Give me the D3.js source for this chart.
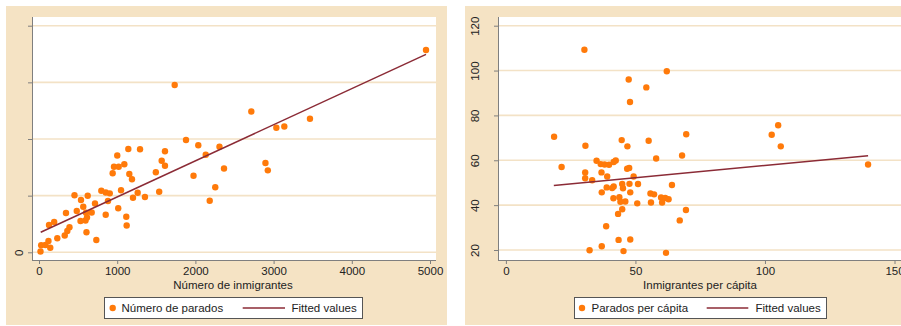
<!DOCTYPE html>
<html>
<head>
<meta charset="utf-8">
<script src="https://cdn.jsdelivr.net/npm/d3@7"></script>
<style>
  html, body { margin: 0; padding: 0; background: #ffffff; }
  svg { display: block; font-family: "Liberation Sans", Arial, sans-serif; }
</style>
</head>
<body>
<svg id="chart" width="901" height="326"></svg>
<script>
// Left panel: number of immigrants vs number of unemployed
const immigrantes = [4949,1735,2715,3035,3137,3465,1001,1142,1292,1611,1880,2037,2308,1569,2132,1611,1494,959,1019,1091,942,1155,1189,1976,2366,2896,2926,2254,2183,1537,1355,1262,1202,1049,1116,1121,1013,853,882,797,854,905,716,566,623,537,454,483,345,601,674,531,595,614,607,733,194,128,390,362,329,234,28,83,121,144,19];
const parados = [3571,2953,2485,2199,2221,2358,1709,1823,1820,1783,1982,1889,1864,1615,1723,1529,1412,1511,1511,1553,1395,1382,1289,1352,1479,1576,1447,1147,911,1070,976,1052,964,1094,627,473,777,664,906,1086,1056,1041,861,805,999,923,1006,729,694,699,703,553,561,614,355,217,535,482,441,376,297,247,124,129,199,81,14];
// Fitted values line (start and end of the data range)
const fitLeftX = [22, 4949];
const fitLeftY = [353, 3495];
const leftXTicks = [0, 1000, 2000, 3000, 4000, 5000];
const leftYTicks = [0, 1000, 2000, 3000, 4000];
const leftYTickLabels = ["0", "", "", "", ""];

// Right panel: immigrants per capita vs unemployed per capita
const inmigPC = [30.3,62.1,47.4,54.2,47.9,18.6,30.7,44.7,46.9,55.1,69.6,102.6,105.1,106.1,68.0,58.0,35.0,42.4,21.5,30.6,30.6,33.3,36.6,38.1,39.8,41.6,36.9,39.1,46.8,47.6,49.3,51.0,47.7,44.9,45.2,41.6,38.9,41.0,37.0,48.0,41.5,43.8,44.2,46.1,50.7,43.3,44.9,38.7,43.5,48.0,37.0,32.3,45.4,61.8,55.8,57.2,56.0,59.9,61.5,62.8,60.3,64.1,67.1,69.5,139.8];
const paradosPC = [109.3,99.7,96.0,92.5,86.0,70.5,66.5,69.0,66.2,68.7,71.6,71.4,75.6,66.2,62.1,60.8,59.8,59.9,57.0,54.6,52.0,51.1,58.3,58.1,58.0,59.2,54.6,52.8,56.2,56.6,52.8,49.4,49.5,49.4,47.5,48.3,47.9,47.6,45.7,45.7,43.1,43.5,41.5,41.6,40.8,36.1,38.2,30.6,24.5,24.7,21.7,19.9,19.5,18.7,45.2,44.8,41.2,43.4,43.2,42.6,41.2,49.0,33.2,37.8,58.1];
const fitRightX = [18.5, 139.8];
const fitRightY = [48.8, 62.0];
const rightXTicks = [0, 50, 100, 150];
const rightYTicks = [20, 40, 60, 80, 100, 120];

const C = {
  panel: "#f5e3c4",
  grid: "#f3e2c6",
  axis: "#7f7f7f",
  marker: "#ff7a0a",
  fit: "#8b2b36",
  text: "#222222"
};

const svg = d3.select("#chart");

function drawPanel(cfg) {
  const g = svg.append("g");
  // outer panel background
  g.append("rect")
    .attr("x", cfg.panel[0]).attr("y", cfg.panel[1])
    .attr("width", cfg.panel[2]).attr("height", cfg.panel[3])
    .attr("fill", C.panel);
  // plot region
  g.append("rect")
    .attr("x", cfg.plot[0]).attr("y", cfg.plot[1])
    .attr("width", cfg.plot[2] - cfg.plot[0]).attr("height", cfg.plot[3] - cfg.plot[1])
    .attr("fill", "#ffffff");

  const x = d3.scaleLinear().domain(cfg.xDomain).range(cfg.xRange);
  const y = d3.scaleLinear().domain(cfg.yDomain).range(cfg.yRange);

  // horizontal gridlines
  g.append("g").selectAll("line").data(cfg.yTicks).join("line")
    .attr("x1", cfg.plot[0] + 1).attr("x2", cfg.plot[2])
    .attr("y1", d => y(d)).attr("y2", d => y(d))
    .attr("stroke", C.grid).attr("stroke-width", 1.6);

  // y axis
  const yAxis = d3.axisLeft(y).tickValues(cfg.yTicks).tickSize(4).tickSizeOuter(0)
    .tickFormat((d, i) => cfg.yLabels ? cfg.yLabels[i] : d);
  const ya = g.append("g").attr("transform", `translate(${cfg.plot[0]},0)`).call(yAxis);
  ya.select(".domain").attr("d", `M0.5,${cfg.plot[1]}V${cfg.plot[3]}`).attr("stroke", C.axis);
  ya.selectAll(".tick line").attr("stroke", C.axis);
  ya.selectAll(".tick text")
    .attr("fill", C.text).attr("font-size", 11.5)
    .attr("x", 0).attr("dy", 0)
    .attr("text-anchor", "middle")
    .attr("transform", `translate(${cfg.yLabelX - cfg.plot[0]},0) rotate(-90)`)
    .attr("dominant-baseline", "central")
    .attr("font-family", "Liberation Sans, Arial, sans-serif");

  // x axis
  const xAxis = d3.axisBottom(x).tickValues(cfg.xTicks).tickSize(4).tickSizeOuter(0)
    .tickFormat(d3.format("d"));
  const xa = g.append("g").attr("transform", `translate(0,${cfg.plot[3]})`).call(xAxis);
  xa.select(".domain").attr("d", `M${cfg.plot[0]},0.5H${cfg.plot[2]}`).attr("stroke", C.axis);
  xa.selectAll(".tick line").attr("stroke", C.axis);
  xa.selectAll(".tick text")
    .attr("fill", C.text).attr("font-size", 11.5).attr("y", 7).attr("dy", "0.71em")
    .attr("font-family", "Liberation Sans, Arial, sans-serif");

  // axis title
  g.append("text")
    .attr("x", cfg.titleX).attr("y", 288.5)
    .attr("text-anchor", "middle").attr("font-size", 11.5).attr("fill", C.text)
    .text(cfg.xTitle);

  // scatter points
  g.append("g").selectAll("circle").data(cfg.xs.map((v, i) => [v, cfg.ys[i]])).join("circle")
    .attr("cx", d => x(d[0])).attr("cy", d => y(d[1])).attr("r", 3.2)
    .attr("fill", C.marker);

  // fitted line
  g.append("line")
    .attr("x1", x(cfg.fitX[0])).attr("y1", y(cfg.fitY[0]))
    .attr("x2", x(cfg.fitX[1])).attr("y2", y(cfg.fitY[1]))
    .attr("stroke", C.fit).attr("stroke-width", 1.5);

  // legend
  const L = cfg.legend;
  const lg = g.append("g");
  lg.append("rect")
    .attr("x", L.box[0] + 0.5).attr("y", L.box[1] + 0.5)
    .attr("width", L.box[2] - L.box[0]).attr("height", L.box[3] - L.box[1])
    .attr("fill", "#ffffff").attr("stroke", "#555555").attr("stroke-width", 1);
  const ly = (L.box[1] + L.box[3]) / 2 + 0.5;
  lg.append("circle").attr("cx", L.marker).attr("cy", ly).attr("r", 3.2).attr("fill", C.marker);
  lg.append("text").attr("x", L.text1).attr("y", ly).attr("dy", "0.35em")
    .attr("font-size", 11.5).attr("fill", C.text).text(cfg.legend1);
  lg.append("line").attr("x1", L.line[0]).attr("x2", L.line[1])
    .attr("y1", ly).attr("y2", ly).attr("stroke", C.fit).attr("stroke-width", 1.5);
  lg.append("text").attr("x", L.text2).attr("y", ly).attr("dy", "0.35em")
    .attr("font-size", 11.5).attr("fill", C.text).text("Fitted values");
}

drawPanel({
  panel: [6, 6, 441, 319],
  plot: [32, 17, 436, 260],
  xDomain: [0, 5000], xRange: [39, 430],
  yDomain: [0, 4000], yRange: [252.3, 25.7],
  xTicks: leftXTicks, yTicks: leftYTicks, yLabels: leftYTickLabels,
  yLabelX: 19,
  xs: immigrantes, ys: parados,
  fitX: fitLeftX, fitY: fitLeftY,
  xTitle: "Número de inmigrantes", titleX: 233,
  legend1: "Número de parados",
  legend: { box: [104, 297, 362, 318], marker: 112.7, text1: 121.5, line: [242.7, 285], text2: 291.5 }
});

drawPanel({
  panel: [465, 6, 436, 319],
  plot: [498, 17, 902, 260],
  xDomain: [0, 150], xRange: [505.9, 894.5],
  yDomain: [20, 120], yRange: [250, 25.7],
  xTicks: rightXTicks, yTicks: rightYTicks, yLabels: null,
  yLabelX: 475,
  xs: inmigPC, ys: paradosPC,
  fitX: fitRightX, fitY: fitRightY,
  xTitle: "Inmigrantes per cápita", titleX: 700,
  legend1: "Parados per cápita",
  legend: { box: [574, 297, 826, 318], marker: 582, text1: 591.5, line: [706.7, 748.3], text2: 755.5 }
});
</script>
</body>
</html>
